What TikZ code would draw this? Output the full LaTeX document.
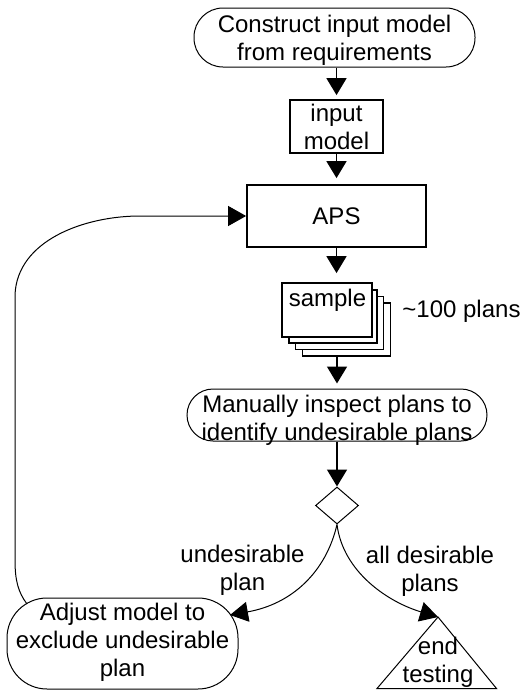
\documentclass[tikz,border=0pt]{standalone}
\usepackage{fontspec}
\setmainfont{Liberation Sans}
\usetikzlibrary{arrows.meta,shapes.geometric}

\begin{document}
\begin{tikzpicture}[x=1pt,y=-1pt,
  every node/.style={font=\fontsize{24}{28}\selectfont, align=center, inner sep=0pt},
  stadium/.style={draw, line width=1pt, rounded corners=#1},
  box/.style={draw, line width=1.8pt, fill=white},
  flow/.style={line width=1.6pt, -{Triangle[length=17pt,width=20pt]}},
  bendflow/.style={line width=1pt, -{Triangle[length=18pt,width=20pt]}},
]
\useasboundingbox (0,0) rectangle (522,691);

% start of the loop
\node[stadium=29pt, minimum width=281pt, minimum height=59pt] (start) at (334.5,37.5) {};
\node (start-t) at (334.5,40.5) {Construct input model\\from requirements};

\node[box, minimum width=93pt, minimum height=53pt] (inmodel) at (336.5,126.5) {input\\model};

\node[box, minimum width=179pt, minimum height=62pt] (aps) at (336.5,216) {APS};

% stack of sampled plans, back to front
\node[box, minimum width=88pt, minimum height=53pt] (s4) at (346.5,329.5) {};
\node[box, minimum width=88pt, minimum height=53pt] (s3) at (339.5,323) {};
\node[box, minimum width=88pt, minimum height=53pt] (s2) at (333,316.5) {};
\node[box, minimum width=90pt, minimum height=54pt] (sample) at (327,310) {};
\node (sample-t) at (327.5,300.5) {sample};
\node (count) at (461.5,311.5) {\textasciitilde100 plans};

\node[stadium=26pt, minimum width=300pt, minimum height=52pt] (inspect) at (337,415) {};
\node (inspect-t) at (337,420.5) {Manually inspect plans to\\identify undesirable plans};

\node[diamond, draw, line width=1pt, minimum width=43pt, minimum height=37pt] (dec) at (337,505.5) {};

\node[stadium=40pt, minimum width=231pt, minimum height=91pt] (adjust) at (122.5,643.5) {};
\node (adjust-t) at (122.5,642) {Adjust model to\\exclude undesirable\\plan};

% end of testing
\coordinate (apex) at (438,617);
\draw[line width=1pt] (apex) -- (496.5,688.5) -- (377,688.5) -- cycle;
\node (end-t) at (438,662) {end\\testing};

\node (lab-u) at (242.5,570) {undesirable\\plan};
\node (lab-d) at (430,571) {all desirable\\plans};

\coordinate (adj-in) at (230,615);
\coordinate (loop-out) at (27,604);

% straight flow
\draw[flow, shorten >=4pt] (inmodel.north |- start.south) -- (inmodel.north);
\draw[flow, shorten >=6pt] (inmodel.south) -- (aps.north);
\draw[flow, shorten >=9pt] (aps.south) -- (aps.south |- sample.north);
\draw[flow, shorten >=5pt] (inspect.north |- s4.south) -- (inspect.north);
\draw[flow] (inspect.south) -- (dec.north);

% decision branches
\draw[bendflow] (dec.south) .. controls (326,572) and (292,604) .. (adj-in);
\draw[bendflow] (dec.south) .. controls (343,572) and (388,602) .. (apex);

% feedback to the planner
\draw[bendflow] (loop-out) .. controls (18,592) and (15,580) .. (15,560)
  -- (15,295) .. controls (17,240) and (85,216) .. (140,216) -- (aps.west);
\end{tikzpicture}
\end{document}
